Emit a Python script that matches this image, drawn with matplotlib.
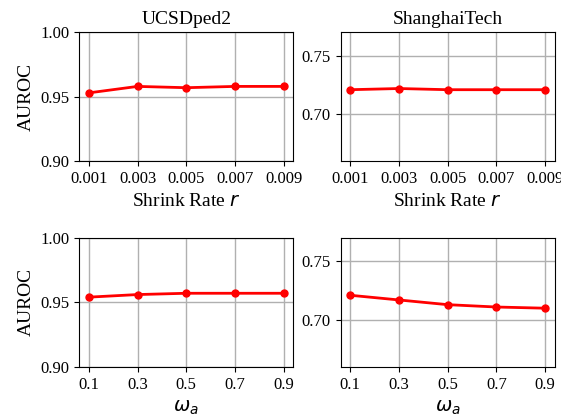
import matplotlib
matplotlib.use('Agg')
import matplotlib.pyplot as plt

plt.rcParams['font.family'] = ['Liberation Serif', 'DejaVu Serif']
plt.rcParams['mathtext.fontset'] = 'dejavusans'

# data
shrink_rates = [0.001, 0.003, 0.005, 0.007, 0.009]
shrink_labels = ['0.001', '0.003', '0.005', '0.007', '0.009']
omega_vals = [0.1, 0.3, 0.5, 0.7, 0.9]
omega_labels = ['0.1', '0.3', '0.5', '0.7', '0.9']

ucsd_shrink = [0.953, 0.958, 0.957, 0.958, 0.958]
sht_shrink = [0.721, 0.722, 0.721, 0.721, 0.721]
ucsd_omega = [0.954, 0.956, 0.957, 0.957, 0.957]
sht_omega = [0.721, 0.717, 0.713, 0.711, 0.710]

titles = ['UCSDped2', 'ShanghaiTech']

fig, axes = plt.subplots(2, 2, figsize=(5.61, 4.17), dpi=100)
plt.subplots_adjust(left=0.141, right=0.989, top=0.923, bottom=0.12,
                    wspace=0.22, hspace=0.59)

panels = [
    (axes[0, 0], shrink_rates, shrink_labels, ucsd_shrink, 'ucsd'),
    (axes[0, 1], shrink_rates, shrink_labels, sht_shrink, 'sht'),
    (axes[1, 0], omega_vals, omega_labels, ucsd_omega, 'ucsd'),
    (axes[1, 1], omega_vals, omega_labels, sht_omega, 'sht'),
]

for i, (ax, x, xl, y, ds) in enumerate(panels):
    ax.plot(x, y, color='red', marker='o', linewidth=2, markersize=5)
    ax.grid(True, color='#b0b0b0', linewidth=1)
    ax.set_axisbelow(True)
    ax.set_xticks(x)
    ax.set_xticklabels(xl)
    if ds == 'ucsd':
        ax.set_ylim(0.90, 1.00)
        ax.set_yticks([0.90, 0.95, 1.00])
        ax.set_yticklabels(['0.90', '0.95', '1.00'])
        ax.set_ylabel('AUROC', fontsize=14)
    else:
        ax.set_ylim(0.66, 0.77)
        ax.set_yticks([0.70, 0.75])
        ax.set_yticklabels(['0.70', '0.75'])
    ax.tick_params(labelsize=12)
    if i < 2:
        ax.set_title(titles[i], fontsize=14)
        ax.set_xlabel('Shrink Rate $r$', fontsize=14, labelpad=4)
    else:
        ax.set_xlabel(r'$\omega_a$', fontsize=14, labelpad=4)

plt.savefig('out.png', dpi=100)
